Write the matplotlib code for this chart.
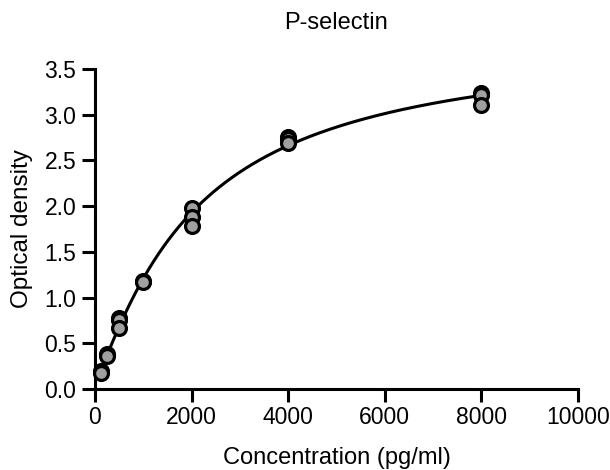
import numpy as np
import matplotlib
matplotlib.use("Agg")
import matplotlib.pyplot as plt

plt.rcParams['font.family'] = ['Liberation Sans', 'DejaVu Sans']

# Standard concentrations (pg/ml) and replicate optical densities
conc = [125, 125, 250, 250, 500, 500, 500, 1000, 1000, 2000, 2000, 2000,
        4000, 4000, 4000, 8000, 8000, 8000]
od = [0.20, 0.18, 0.38, 0.36, 0.78, 0.75, 0.67, 1.18, 1.17, 1.98, 1.88, 1.78,
      2.76, 2.73, 2.69, 3.24, 3.21, 3.11]

x_ticks = [0, 2000, 4000, 6000, 8000, 10000]
y_ticks = [0.0, 0.5, 1.0, 1.5, 2.0, 2.5, 3.0, 3.5]

x = np.array(conc, dtype=float)
y = np.array(od, dtype=float)


def fit_4pl(x, y):
    """Four-parameter logistic fit: grid over (c, h), linear solve for (a, d)."""
    best = None
    for c in np.linspace(500, 20000, 400):
        for h in np.linspace(0.5, 2.5, 81):
            g = 1.0 / (1.0 + (x / c) ** h)
            A = np.column_stack([g, 1 - g])
            coef, *_ = np.linalg.lstsq(A, y, rcond=None)
            r = np.sum((A @ coef - y) ** 2)
            if best is None or r < best[0]:
                best = (r, coef[0], coef[1], c, h)
    _, a, d, c, h = best
    return lambda t: d + (a - d) / (1.0 + (t / c) ** h)


model = fit_4pl(x, y)
xs = np.linspace(min(conc), max(conc), 400)

fig = plt.figure(figsize=(6.1, 4.7), dpi=100)
ax = fig.add_axes([0.1557, 0.1723, 0.7918, 0.681])

ax.plot(xs, model(xs), color='black', lw=2.2, zorder=2)
ax.scatter(x, y, s=100, facecolor='#a0a0a0', edgecolor='black',
           linewidth=2.3, zorder=3, clip_on=False)

ax.set_xlim(0, 10000)
ax.set_ylim(0, 3.5)
ax.set_xticks(x_ticks)
ax.set_yticks(y_ticks)
ax.set_yticklabels([f"{v:.1f}" for v in y_ticks])

for s in ['top', 'right']:
    ax.spines[s].set_visible(False)
for s in ['left', 'bottom']:
    ax.spines[s].set_linewidth(2.2)
ax.tick_params(width=2.2, length=9.5, labelsize=16.5, direction='out')
ax.tick_params(axis='x', pad=3)
ax.tick_params(axis='y', pad=4)

ax.set_xlabel('Concentration (pg/ml)', fontsize=17, labelpad=13)
ax.set_ylabel('Optical density', fontsize=17.5, labelpad=8)
ax.set_title('P-selectin', fontsize=17, pad=29)

fig.savefig('out.png', dpi=100)
